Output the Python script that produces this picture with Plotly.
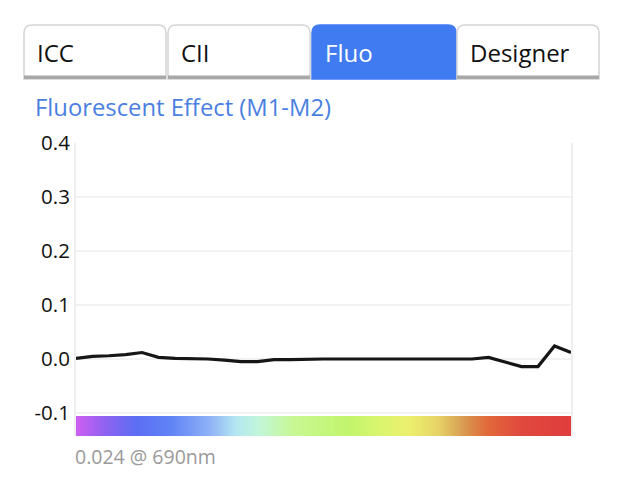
import plotly.graph_objects as go

# ---- data ----
wavelengths = [400, 410, 420, 430, 440, 450, 460, 470, 480, 490, 500, 510, 520, 530, 540, 550,
               560, 570, 580, 590, 600, 610, 620, 630, 640, 650, 660, 670, 680, 690, 700]
fluo_effect = [0.001, 0.005, 0.006, 0.008, 0.012, 0.003, 0.001, 0.001, 0.000, -0.002, -0.005,
               -0.005, -0.001, -0.001, 0.000, 0.000, 0.000, 0.000, 0.000, 0.000, 0.000, 0.000,
               0.000, 0.000, 0.000, 0.003, -0.005, -0.014, -0.014, 0.024, 0.012]
ytick_vals = [-0.1, 0.0, 0.1, 0.2, 0.3, 0.4]
ytick_text = ["-0.1", "0.0", "0.1", "0.2", "0.3", "0.4"]
tab_labels = ["ICC", "CII", "Fluo", "Designer"]
active_tab = "Fluo"
title_text = "Fluorescent Effect (M1-M2)"
peak_text = "0.024 @ 690nm"

# spectrum colour stops (fraction of 400..700 nm, colour)
spectrum_stops = [
    [0.00, "#cc5ff2"], [0.06, "#8c62f0"], [0.12, "#5c6ef4"], [0.19, "#6083f6"],
    [0.27, "#8fb2f6"], [0.32, "#b3e6f2"], [0.37, "#c2f6d8"], [0.44, "#c8f792"],
    [0.55, "#c2f56c"], [0.62, "#dcf56e"], [0.67, "#ecf06e"], [0.73, "#e6d466"],
    [0.78, "#d89c52"], [0.83, "#e1683a"], [0.90, "#e0483e"], [1.00, "#e03c3c"],
]

# page body has an 8px margin: work in screen pixels, shift by OFF
OFF = 8
W_FIG, H_FIG = 644 - OFF, 488 - OFF
L, R, T, B = 76, 571, 143, 436
Y_LO = 0.4 - (B - T) / 540.0
BAR_TOP = (359 - 416) / 540.0
BAR_MID = (Y_LO + BAR_TOP) / 2


def px(x):
    return (x - L) / (R - L)


def py(y):
    return (B - y) / (B - T)


fig = go.Figure()

# spectrum bar
fig.add_trace(go.Heatmap(
    x=wavelengths, y=[Y_LO, BAR_MID, BAR_TOP], z=[wavelengths, wavelengths],
    colorscale=spectrum_stops, zmin=wavelengths[0], zmax=wavelengths[-1],
    zsmooth="best", showscale=False, hoverinfo="skip",
))

fig.add_trace(go.Scatter(
    x=wavelengths, y=fluo_effect, mode="lines",
    line=dict(color="#161616", width=3.2), hoverinfo="x+y", showlegend=False,
))

shapes = []
annotations = []

# tabs
tab_x = [(24, 166), (168, 310), (312, 456), (457, 599)]
tab_top, tab_bot, rad = 25, 79, 8
for (x0, x1), lab in zip(tab_x, tab_labels):
    active = lab == active_tab
    path = (f"M {px(x0)},{py(tab_bot)} L {px(x0)},{py(tab_top + rad)} "
            f"Q {px(x0)},{py(tab_top)} {px(x0 + rad)},{py(tab_top)} "
            f"L {px(x1 - rad)},{py(tab_top)} Q {px(x1)},{py(tab_top)} {px(x1)},{py(tab_top + rad)} "
            f"L {px(x1)},{py(tab_bot)} Z")
    shapes.append(dict(type="path", xref="paper", yref="paper", path=path,
                       fillcolor="#417bf2" if active else "#ffffff",
                       line=dict(color="#417bf2" if active else "#d4d4d4", width=1.5), layer="above"))
    if not active:
        shapes.append(dict(type="rect", xref="paper", yref="paper",
                           x0=px(x0), x1=px(x1), y0=py(79), y1=py(75.5),
                           fillcolor="#a8a8a8", line=dict(width=0), layer="above"))
    annotations.append(dict(xref="paper", yref="paper", x=px(x0 + 11), y=py(52),
                            text=lab, showarrow=False, xanchor="left", yanchor="middle",
                            font=dict(family="Open Sans", size=24,
                                      color="#ffffff" if active else "#111111")))

annotations.append(dict(xref="paper", yref="paper", x=px(33), y=py(107), text=title_text,
                        showarrow=False, xanchor="left", yanchor="middle",
                        font=dict(family="Open Sans", size=23.8, color="#4a7fe2")))
annotations.append(dict(xref="paper", yref="paper", x=px(73), y=py(456), text=peak_text,
                        showarrow=False, xanchor="left", yanchor="middle",
                        font=dict(family="Open Sans", size=19.5, color="#9a9a9a")))

fig.update_layout(
    width=W_FIG, height=H_FIG,
    margin=dict(l=L - OFF, r=644 - R, t=T - OFF, b=488 - B, pad=0),
    paper_bgcolor="#ffffff", plot_bgcolor="#ffffff",
    showlegend=False, shapes=shapes, annotations=annotations,
    font=dict(family="Open Sans", color="#111111"),
)
fig.update_xaxes(range=[wavelengths[0], wavelengths[-1]], showgrid=False, zeroline=False,
                 showticklabels=False, showline=False, ticks="")
fig.update_yaxes(range=[Y_LO, 0.4], tickvals=ytick_vals, ticktext=ytick_text,
                 showgrid=True, gridcolor="#f2f2f2", gridwidth=1.5, zeroline=False,
                 showline=True, mirror=True, linecolor="#efefef", linewidth=2,
                 ticks="", ticklen=0, ticklabelstandoff=0,
                 tickfont=dict(family="Open Sans", size=20.5, color="#111111"))

fig.write_html("out.html")
